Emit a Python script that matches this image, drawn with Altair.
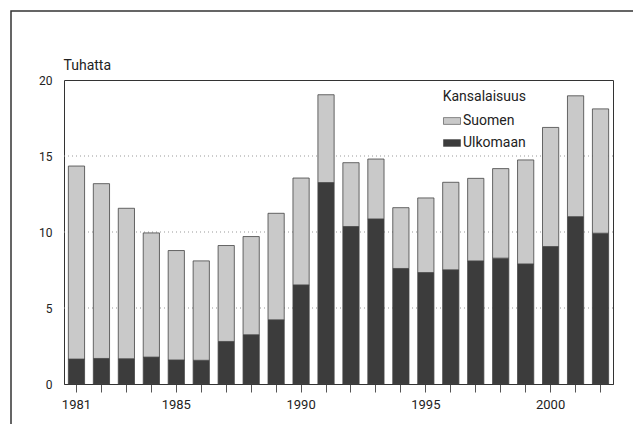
import altair as alt
import pandas as pd

years = list(range(1981, 2003))
ulkomaan = [1.64, 1.68, 1.66, 1.77, 1.58, 1.56, 2.80, 3.24, 4.22, 6.52, 13.25,
            10.36, 10.86, 7.60, 7.33, 7.51, 8.10, 8.28, 7.90, 9.04, 11.01, 9.92]
suomen = [12.70, 11.50, 9.90, 8.17, 7.20, 6.54, 6.31, 6.46, 7.01, 7.03, 5.78,
          4.20, 3.94, 4.00, 4.91, 5.76, 5.43, 5.89, 6.84, 7.84, 7.95, 8.18]
series = ["Suomen", "Ulkomaan"]
grid_values = [5, 10, 15]
y_ticks = [0, 5, 10, 15, 20]

FONT = "Roboto, sans-serif"

rows = []
for i, yr in enumerate(years):
    rows.append({"vuosi": yr, "kansalaisuus": "Ulkomaan", "arvo": ulkomaan[i], "ord": 0})
    rows.append({"vuosi": yr, "kansalaisuus": "Suomen", "arvo": suomen[i], "ord": 1})
df = pd.DataFrame(rows)
grid_df = pd.DataFrame({"g": grid_values})
frame_df = pd.DataFrame({"f": [0]})

x_enc = alt.X(
    "vuosi:O",
    title=None,
    scale=alt.Scale(paddingInner=0.35, paddingOuter=0.175),
    axis=alt.Axis(
        labelAngle=0,
        labelExpr="(datum.value == 1981 || datum.value % 5 == 0) ? datum.label : ''",
        tickSize=8,
        tickColor="#555",
        domainColor="#333",
        labelPadding=6,
        labelFontSize=13,
        labelFont=FONT,
        labelColor="#222",
    ),
)

y_axis = alt.Axis(
    values=y_ticks,
    grid=False,
    ticks=False,
    domain=False,
    labelPadding=12,
    labelFontSize=12,
    labelFont=FONT,
    labelColor="#222",
    title="Tuhatta",
    titleAngle=0,
    titleAlign="left",
    titleBaseline="bottom",
    titleX=-1,
    titleY=-8,
    titleFont=FONT,
    titleFontSize=14,
    titleFontWeight="normal",
    titleColor="#222",
)

bars = alt.Chart(df).mark_bar(stroke="#444", strokeWidth=0.8).encode(
    x=x_enc,
    y=alt.Y(
        "arvo:Q",
        stack="zero",
        title="Tuhatta",
        scale=alt.Scale(domain=[0, 20], nice=False),
        axis=y_axis,
    ),
    color=alt.Color(
        "kansalaisuus:N",
        scale=alt.Scale(domain=series, range=["#c9c9c9", "#3c3c3c"]),
        legend=alt.Legend(
            title="Kansalaisuus",
            orient="none",
            legendX=379,
            legendY=10,
            titleAnchor="end",
            titleFont=FONT,
            titleFontSize=14,
            titleFontWeight="normal",
            titleColor="#222",
            titlePadding=8,
            labelFont=FONT,
            labelFontSize=14,
            labelColor="#222",
            labelOffset=2,
            symbolType="M-1,-0.4H1V0.4H-1Z",
            symbolSize=290,
            symbolStrokeColor="#444",
            symbolStrokeWidth=0.6,
            rowPadding=6,
        ),
    ),
    order=alt.Order("ord:Q", sort="ascending"),
)

grid = alt.Chart(grid_df).mark_rule(color="#999", strokeDash=[1, 3], strokeWidth=1).encode(
    y=alt.Y("g:Q", title="Tuhatta", scale=alt.Scale(domain=[0, 20], nice=False), axis=y_axis)
)

frame = alt.Chart(frame_df).mark_rect(fillOpacity=0, stroke="#333", strokeWidth=1.5).encode(
    x=alt.value(-53), x2=alt.value(650), y=alt.value(-69), y2=alt.value(420)
)

chart = alt.layer(grid, bars, frame).properties(
    width=549,
    height=304,
    autosize=alt.AutoSizeParams(type="none"),
    padding={"left": 56, "top": 72, "right": 20, "bottom": 40},
).configure_view(
    stroke="#333", strokeWidth=1
)

chart.save("out.html", embed_options={"renderer": "svg", "actions": False})
